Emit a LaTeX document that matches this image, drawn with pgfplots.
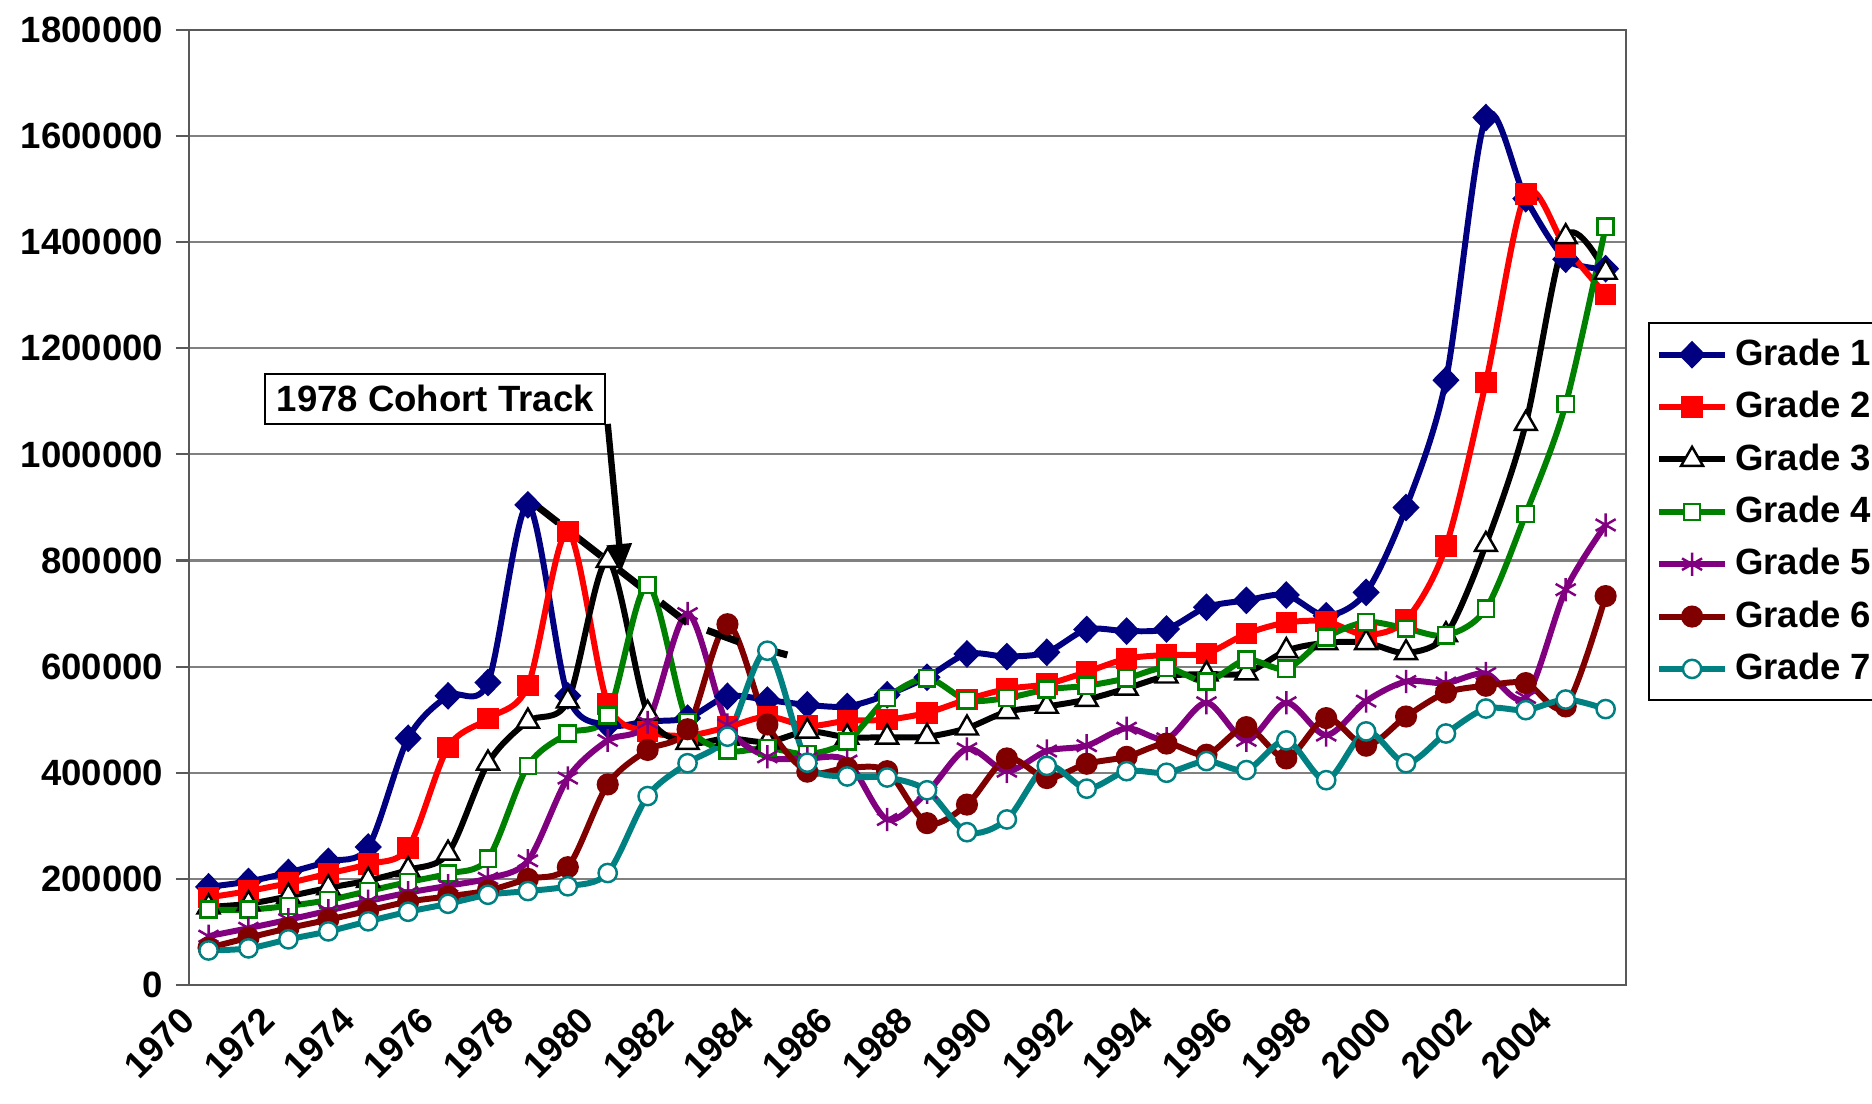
\documentclass[border=0pt]{standalone}
\usepackage{fontspec}
\setmainfont{Liberation Sans}
\usepackage{pgfplots}
\pgfplotsset{compat=1.18}
\usetikzlibrary{arrows.meta}

\definecolor{gnavy}{RGB}{0,0,128}
\definecolor{ggreen}{RGB}{0,128,0}
\definecolor{gpurple}{RGB}{128,0,128}
\definecolor{gmaroon}{RGB}{128,0,0}
\definecolor{gteal}{RGB}{0,128,128}

\newcommand{\chartfont}{\fontsize{10.4}{12}\selectfont\bfseries}

\pgfplotsset{
  legend image code/.code={\draw[mark repeat=2,mark phase=2,#1] plot coordinates {(0cm,0cm) (0.33cm,0cm) (0.66cm,0cm)};},
  grade/.style={line width=1.7pt, smooth},
}

\begin{document}
\begin{tikzpicture}
\useasboundingbox (-1.886,-1.19) rectangle (16.834,9.85);
\begin{axis}[
  at={(0,0)}, anchor=south west,
  scale only axis, width=14.37cm, height=9.55cm,
  xmin=1969.5, xmax=2005.5, ymin=0, ymax=1800000,
  tick pos=left, tick align=outside,
  major tick length=0.13cm, minor tick length=0.13cm,
  tick style={draw=gray!70!black, line width=0.6pt},
  axis line style={draw=gray!70!black, line width=0.6pt},
  ymajorgrids, major grid style={draw=gray, line width=0.6pt},
  scaled y ticks=false,
  ytick={0,200000,400000,600000,800000,1000000,1200000,1400000,1600000,1800000},
  yticklabels={0,200000,400000,600000,800000,1000000,1200000,1400000,1600000,1800000},
  yticklabel style={font=\chartfont},
  xtick=\empty,
  minor xtick={1969.5,1970.5,...,2005.5},
  extra x ticks={1970,1972,...,2004},
  extra x tick labels={1970,1972,1974,1976,1978,1980,1982,1984,1986,1988,1990,1992,1994,1996,1998,2000,2002,2004},
  extra x tick style={major tick length=0pt,
    xticklabel style={font=\chartfont, rotate=45, anchor=east, xshift=-0.226cm, yshift=-0.057cm}},
  legend cell align=left,
  legend style={at={(1.0156,0.694)}, anchor=north west, draw=black, line width=0.6pt,
    font=\chartfont, inner xsep=2pt, inner ysep=1.5pt, row sep=0pt,
    nodes={inner ysep=0pt, minimum height=14.9pt}},
]
\addplot[grade, gnavy, mark=diamond*, mark size=3.6pt, mark options={solid, line width=0.5pt, xscale=1.3}] coordinates {
(1970,185000) (1971,195000) (1972,212000) (1973,233000) (1974,260000) (1975,465000)
(1976,545000) (1977,570000) (1978,905000) (1979,545000) (1980,490000) (1981,497000)
(1982,503000) (1983,544000) (1984,537000) (1985,528000) (1986,525000) (1987,547000)
(1988,580000) (1989,624000) (1990,619000) (1991,627000) (1992,670000) (1993,667000)
(1994,671000) (1995,712000) (1996,725000) (1997,735000) (1998,696000) (1999,740000)
(2000,900000) (2001,1140000) (2002,1635000) (2003,1482000) (2004,1368000) (2005,1350000)
};
\addlegendentry{Grade 1}
\addplot[grade, red, mark=square*, mark size=2.8pt, mark options={solid, line width=0.5pt}] coordinates {
(1970,165000) (1971,177000) (1972,192000) (1973,210000) (1974,228000) (1975,258000)
(1976,448000) (1977,502000) (1978,564000) (1979,855000) (1980,530000) (1981,478000)
(1982,470000) (1983,486000) (1984,506000) (1985,488000) (1986,498000) (1987,500000)
(1988,513000) (1989,538000) (1990,558000) (1991,567000) (1992,590000) (1993,615000)
(1994,622000) (1995,625000) (1996,662000) (1997,683000) (1998,685000) (1999,660000)
(2000,688000) (2001,827000) (2002,1136000) (2003,1491000) (2004,1390000) (2005,1301000)
};
\addlegendentry{Grade 2}
\addplot[grade, black, mark=triangle*, mark size=3.6pt, mark options={solid, fill=white, draw=black, line width=0.7pt}] coordinates {
(1970,147000) (1971,153000) (1972,167000) (1973,183000) (1974,197000) (1975,217000)
(1976,248000) (1977,418000) (1978,497000) (1979,535000) (1980,800000) (1981,512000)
(1982,457000) (1983,465000) (1984,458000) (1985,478000) (1986,467000) (1987,467000)
(1988,468000) (1989,484000) (1990,515000) (1991,525000) (1992,538000) (1993,559000)
(1994,582000) (1995,586000) (1996,588000) (1997,630000) (1998,645000) (1999,645000)
(2000,626000) (2001,660000) (2002,830000) (2003,1058000) (2004,1410000) (2005,1343000)
};
\addlegendentry{Grade 3}
\addplot[grade, ggreen, mark=square*, mark size=2.3pt, mark options={solid, fill=white, draw=ggreen, line width=0.7pt}] coordinates {
(1970,142000) (1971,142000) (1972,149000) (1973,160000) (1974,177000) (1975,194000)
(1976,210000) (1977,238000) (1978,413000) (1979,474000) (1980,508000) (1981,754000)
(1982,495000) (1983,442000) (1984,447000) (1985,435000) (1986,459000) (1987,541000)
(1988,578000) (1989,537000) (1990,541000) (1991,557000) (1992,564000) (1993,578000)
(1994,598000) (1995,572000) (1996,613000) (1997,596000) (1998,655000) (1999,684000)
(2000,672000) (2001,659000) (2002,709000) (2003,888000) (2004,1095000) (2005,1429000)
};
\addlegendentry{Grade 4}
\addplot[grade, gpurple, mark=asterisk, mark size=3.3pt, mark options={solid, line width=0.7pt}] coordinates {
(1970,92000) (1971,107000) (1972,123000) (1973,140000) (1974,158000) (1975,174000)
(1976,187000) (1977,201000) (1978,234000) (1979,390000) (1980,461000) (1981,495000)
(1982,700000) (1983,490000) (1984,430000) (1985,427000) (1986,422000) (1987,312000)
(1988,363000) (1989,445000) (1990,403000) (1991,441000) (1992,451000) (1993,484000)
(1994,464000) (1995,532000) (1996,461000) (1997,532000) (1998,471000) (1999,535000)
(2000,572000) (2001,569000) (2002,587000) (2003,542000) (2004,745000) (2005,867000)
};
\addlegendentry{Grade 5}
\addplot[grade, gmaroon, mark=*, mark size=2.9pt, mark options={solid, line width=0.5pt}] coordinates {
(1970,70000) (1971,89000) (1972,107000) (1973,123000) (1974,140000) (1975,157000)
(1976,167000) (1977,178000) (1978,200000) (1979,222000) (1980,378000) (1981,443000)
(1982,482000) (1983,680000) (1984,491000) (1985,402000) (1986,409000) (1987,403000)
(1988,305000) (1989,340000) (1990,427000) (1991,390000) (1992,417000) (1993,430000)
(1994,455000) (1995,434000) (1996,486000) (1997,427000) (1998,503000) (1999,451000)
(2000,506000) (2001,551000) (2002,564000) (2003,569000) (2004,525000) (2005,733000)
};
\addlegendentry{Grade 6}
\addplot[grade, gteal, mark=*, mark size=2.6pt, mark options={solid, fill=white, draw=gteal, line width=0.7pt}] coordinates {
(1970,65000) (1971,69000) (1972,86000) (1973,101000) (1974,120000) (1975,138000)
(1976,153000) (1977,170000) (1978,177000) (1979,186000) (1980,211000) (1981,356000)
(1982,418000) (1983,468000) (1984,630000) (1985,419000) (1986,393000) (1987,391000)
(1988,367000) (1989,288000) (1990,312000) (1991,413000) (1992,370000) (1993,403000)
(1994,400000) (1995,422000) (1996,405000) (1997,461000) (1998,386000) (1999,478000)
(2000,418000) (2001,474000) (2002,521000) (2003,518000) (2004,538000) (2005,520000)
};
\addlegendentry{Grade 7}
% cohort track
\addplot[black, line width=2pt, dash pattern=on 9.5pt off 6pt, forget plot] coordinates {
(1978.1,910000) (1982.0,682000) (1983.27,647000) (1984.5,622000)
};
\draw[black, line width=1.8pt, -{Triangle[width=0.24cm, length=0.26cm]}]
  (axis cs:1980.0,1057500) -- (axis cs:1980.35,782000);
\node[draw=black, line width=0.6pt, fill=white, font=\chartfont, minimum width=3.4cm, minimum height=0.5cm, inner sep=0pt]
  at (axis cs:1975.68,1104750) {1978 Cohort Track};
\end{axis}
\end{tikzpicture}
\end{document}
